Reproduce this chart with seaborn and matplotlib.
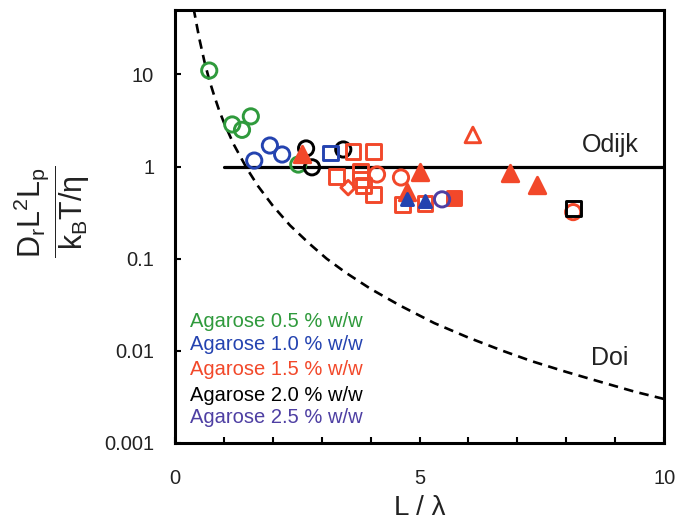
import numpy as np
import pandas as pd
import matplotlib
matplotlib.use("Agg")
import matplotlib.pyplot as plt
import matplotlib.ticker as mticker
import seaborn as sns

sns.set_theme(style="white")
plt.rcParams['font.family'] = ['Liberation Sans', 'DejaVu Sans']
plt.rcParams['mathtext.fontset'] = 'custom'
plt.rcParams['mathtext.rm'] = 'Liberation Sans'
plt.rcParams['mathtext.it'] = 'Liberation Sans'

# ---------------- data ----------------
# 0.5 % (green open circles)
g05_x = [0.70, 1.17, 1.37, 1.55, 2.52]
g05_y = [11.0, 2.86, 2.5, 3.5, 1.05]
# 1.0 % (blue)
b10_circ_x = [1.62, 1.94, 2.19]
b10_circ_y = [1.16, 1.69, 1.35]
b10_sq_x = [3.17]
b10_sq_y = [1.40]
b10_tri_x = [4.74, 5.11]
b10_tri_y = [0.44, 0.42]
# 1.5 % (red)
r15_sq_x = [3.64, 4.05, 3.31, 3.80, 3.80, 3.85, 4.05, 4.66, 5.11]
r15_sq_y = [1.45, 1.45, 0.78, 0.88, 0.72, 0.62, 0.50, 0.39, 0.40]
r15_circ_x = [4.13, 4.62, 8.14]
r15_circ_y = [0.82, 0.76, 0.32]
r15_dia_x = [3.54]
r15_dia_y = [0.59]
r15_tri_x = [2.60, 5.01, 6.85, 7.40, 4.74]
r15_tri_y = [1.35, 0.88, 0.86, 0.63, 0.53]
r15_otri_x = [6.09]
r15_otri_y = [2.2]
r15_fsq_x = [5.70]
r15_fsq_y = [0.45]
# 2.0 % (black)
k20_circ_x = [2.68, 2.80, 3.44]
k20_circ_y = [1.57, 0.98, 1.53]
k20_sq_x = [8.14]
k20_sq_y = [0.35]
# 2.5 % (purple)
p25_circ_x = [5.46]
p25_circ_y = [0.44]

# Doi curve
doi_x = [0.38, 0.45, 0.5, 0.6, 0.7, 0.8, 0.9, 1.0, 1.2, 1.47, 1.7, 2.0, 2.35,
         2.75, 3.1, 3.5, 4.0, 4.6, 5.3, 6.0, 6.7, 7.3, 8.0, 8.7, 9.4, 10.0]
doi_y = [52, 33, 24, 13.9, 8.7, 5.9, 4.1, 3.0, 1.74, 0.95, 0.61, 0.375, 0.23,
         0.145, 0.10, 0.070, 0.047, 0.031, 0.020, 0.0139, 0.0100, 0.0077,
         0.0059, 0.0046, 0.0036, 0.0030]
# Odijk line
odijk_x = [1.0, 10.0]
odijk_y = [1.0, 1.0]

legend_labels = ["Agarose 0.5 % w/w", "Agarose 1.0 % w/w", "Agarose 1.5 % w/w",
                 "Agarose 2.0 % w/w", "Agarose 2.5 % w/w"]
ytick_vals = [0.001, 0.01, 0.1, 1, 10]
ytick_labels = ["0.001", "0.01", "0.1", "1", "10"]
xtick_vals = [0, 5, 10]
xtick_labels = ["0", "5", "10"]

# ---------------- styles ----------------
GREEN = "#2f9a3c"
BLUE = "#2443b0"
RED = "#f2482a"
BLACK = "#000000"
PURPLE = "#4e3fa3"
legend_colors = [GREEN, BLUE, RED, BLACK, PURPLE]

fig = plt.figure(figsize=(6.77, 5.23), dpi=100)
ax = fig.add_axes([0.2585, 0.153, 0.981 - 0.2585, 0.981 - 0.153])
ax.set_yscale("log")

# lines
sns.lineplot(x=doi_x, y=doi_y, ax=ax, color="black", lw=1.9,
             estimator=None, sort=False, zorder=2)
ax.lines[-1].set_dashes((3.6, 2.4))
sns.lineplot(x=odijk_x, y=odijk_y, ax=ax, color="black", lw=2.3,
             estimator=None, sort=False, zorder=2)

LW = 2.1

def pts(xs, ys, marker, color, filled, s=120, z=3):
    df = pd.DataFrame({"x": xs, "y": ys})
    sns.scatterplot(data=df, x="x", y="y", ax=ax, marker=marker, s=s,
                    color=color, edgecolor=color,
                    facecolor=(color if filled else "none"),
                    linewidth=LW, legend=False, zorder=z)

pts(g05_x, g05_y, "o", GREEN, False, z=3)
pts(k20_circ_x, k20_circ_y, "o", BLACK, False, z=3.1)
pts(r15_fsq_x, r15_fsq_y, "s", RED, True, s=100, z=3.2)
pts(r15_sq_x, r15_sq_y, "s", RED, False, s=115, z=3.2)
pts(r15_circ_x, r15_circ_y, "o", RED, False, z=3.2)
pts(r15_dia_x, r15_dia_y, "D", RED, False, s=55, z=3.2)
pts(r15_tri_x, r15_tri_y, "^", RED, True, s=140, z=3.3)
pts(r15_otri_x, r15_otri_y, "^", RED, False, s=125, z=3.3)
pts(b10_circ_x, b10_circ_y, "o", BLUE, False, z=3.4)
pts(b10_sq_x, b10_sq_y, "s", BLUE, False, s=115, z=3.4)
pts(b10_tri_x, b10_tri_y, "^", BLUE, True, s=75, z=3.4)
pts(p25_circ_x, p25_circ_y, "o", PURPLE, False, z=3.5)
pts(k20_sq_x, k20_sq_y, "s", BLACK, False, s=115, z=3.6)

# axes limits / ticks
ax.set_xlim(0, 10)
ax.set_ylim(0.001, 50)
ax.xaxis.set_major_locator(mticker.FixedLocator(xtick_vals))
ax.xaxis.set_major_formatter(mticker.FixedFormatter(xtick_labels))
ax.xaxis.set_minor_locator(mticker.MultipleLocator(1))
ax.yaxis.set_major_locator(mticker.FixedLocator(ytick_vals))
ax.yaxis.set_major_formatter(mticker.FixedFormatter(ytick_labels))
ax.yaxis.set_minor_locator(mticker.NullLocator())
ax.tick_params(axis="both", which="both", direction="in", length=4.5,
               width=1.5, color="black", labelsize=14.5, labelcolor="#222222",
               top=False, right=False, bottom=True, left=True)
ax.tick_params(axis="x", which="major", pad=19)
ax.tick_params(axis="y", which="major", pad=15)
for sp in ax.spines.values():
    sp.set_visible(True)
    sp.set_color("black")
    sp.set_linewidth(2.2)

ax.set_xlabel("L / λ", fontsize=20, color="#222222")
ax.xaxis.label.set_va("center")
ax.xaxis.set_label_coords(0.5, -0.15)
ax.set_ylabel("")
fig.text(52 / 677, 1 - 212 / 523,
         r"$\dfrac{\mathrm{D_rL^2L_p}}{\mathrm{k_BT/\eta}}$", fontsize=22,
         color="#222222", rotation=90, ha="center", va="center")

ax.text(8.9, 1.73, "Odijk", fontsize=18, ha="center", va="center", color="#222222")
ax.text(8.88, 0.0083, "Doi", fontsize=18, ha="center", va="center", color="#222222")

leg_y = [0.0207, 0.0116, 0.0062, 0.0033, 0.00187]
for lab, c, yy in zip(legend_labels, legend_colors, leg_y):
    ax.text(0.31, yy, lab, fontsize=14.5, ha="left", va="center", color=c)

fig.savefig("out.png", dpi=100)
